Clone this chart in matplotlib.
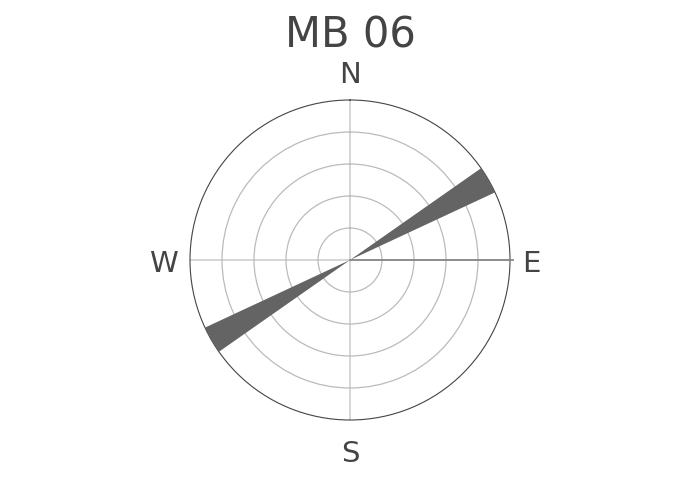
import matplotlib.pyplot as plt
import numpy as np

plt.rcParams['font.family'] = ['DejaVu Sans']

# rose diagram data (azimuths in degrees, bin counts)
title = "MB 06"
directions = [60, 240]
counts = [5, 5]
bin_width = 10
r_max = 5
r_ticks = [1, 2, 3, 4]
compass = ["N", "E", "S", "W"]
compass_deg = [0, 90, 180, 270]

fig = plt.figure(figsize=(7, 5), dpi=100)
ax = fig.add_axes([190 / 700, 80 / 500, 320 / 700, 320 / 500], projection='polar')
ax.set_theta_zero_location('N')
ax.set_theta_direction(-1)

ax.bar(np.radians(directions), counts, width=np.radians(bin_width),
       color='#646464', edgecolor='none', zorder=3)

ax.set_ylim(0, r_max)
ax.set_yticks(r_ticks)
ax.set_yticklabels([])
ax.yaxis.grid(True, color='#bbbbbb', linewidth=0.9)

ax.set_xticks(np.radians(compass_deg))
ax.set_xticklabels([])
ax.xaxis.grid(True, color='#d0d0d0', linewidth=1.2)
ax.tick_params(axis='x', direction='out', length=3.6, width=1, color='#444444')

# compass labels, offsets in pixels from the rim (baseline anchored)
offsets = {"N": (0, 17), "E": (21, -12), "S": (0, -42), "W": (-26.5, -12)}
for lab, deg in zip(compass, compass_deg):
    dx, dy = offsets[lab]
    ax.annotate(lab, xy=(np.radians(deg), r_max), xycoords='data',
                xytext=(dx * 0.72, dy * 0.72), textcoords='offset points',
                ha='center', va='baseline', fontsize=21, color='#444444',
                annotation_clip=False)

ax.spines['polar'].set_color('#444444')
ax.spines['polar'].set_linewidth(0.8)

# radial axis line along east
ax.plot([np.pi / 2, np.pi / 2], [0, r_max * 1.02], color='#888888',
        linewidth=1.3, clip_on=False, zorder=4)

fig.text(0.5, 0.904, title, ha='center', va='baseline', fontsize=30, color='#444444')

fig.savefig('out.png')
